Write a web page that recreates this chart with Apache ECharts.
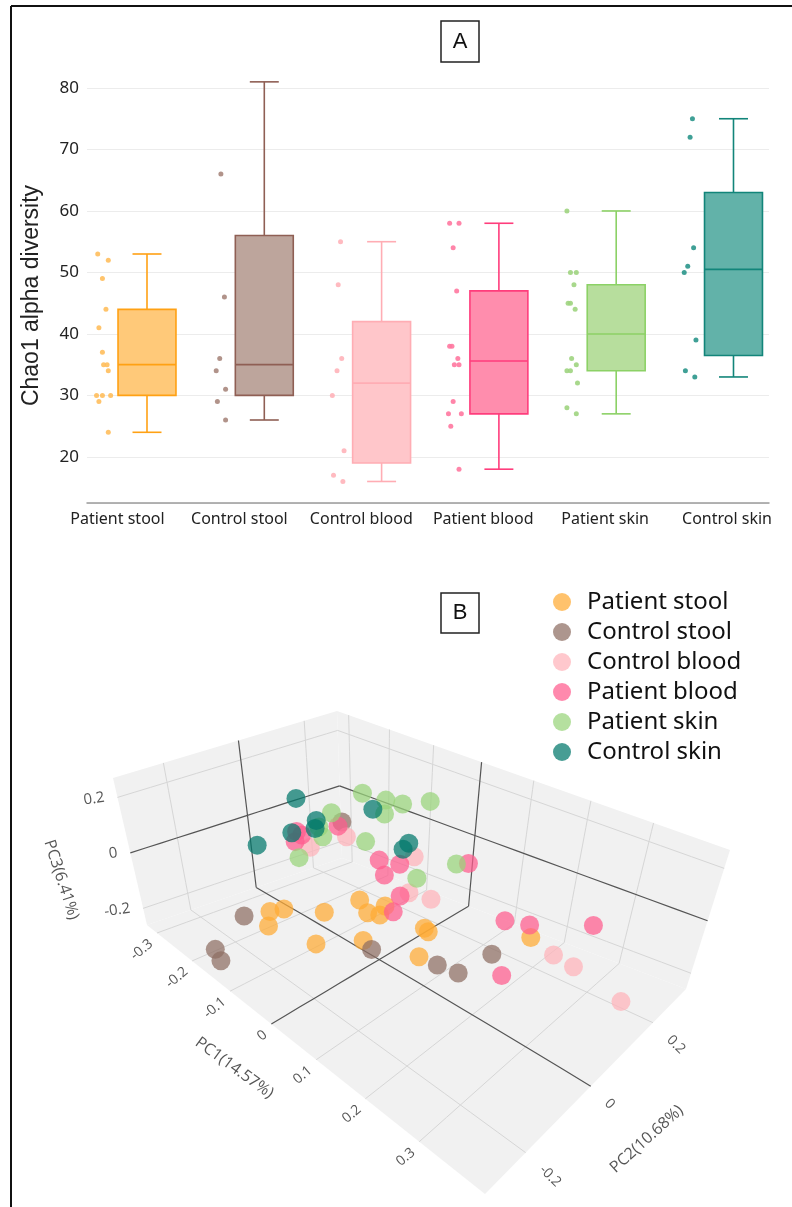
<!DOCTYPE html>
<html>
<head>
<meta charset="utf-8">
<title>Chao1 alpha diversity / PCoA</title>
<script src="https://cdn.jsdelivr.net/npm/echarts@6/dist/echarts.min.js"></script>
<style>
  html, body { margin: 0; padding: 0; background: #fff; }
  #chart { width: 792px; height: 1207px; }
</style>
</head>
<body>
<div id="chart"></div>
<script>
const groups = ['Patient stool', 'Control stool', 'Control blood', 'Patient blood', 'Patient skin', 'Control skin'];

// ---- panel A : five-number summaries [min, Q1, median, Q3, max]
const statsPatientStool = [24, 30, 35, 44, 53];
const statsControlStool = [26, 30, 35, 56, 81];
const statsControlBlood = [16, 19, 32, 42, 55];
const statsPatientBlood = [18, 27, 35.6, 47, 58];
const statsPatientSkin = [27, 34, 40, 48, 60];
const statsControlSkin = [33, 36.5, 50.5, 63, 75];

// individual samples drawn left of each box, with their jitter (fraction of a category)
const dotsPatientStool = [53, 52, 49, 44, 41, 37, 35, 35, 34, 30, 30, 30, 29, 24];
const jitPatientStool = [-0.42, -0.33, -0.38, -0.35, -0.41, -0.38, -0.37, -0.34, -0.33, -0.43, -0.38, -0.31, -0.41, -0.33];
const dotsControlStool = [81, 66, 46, 36, 34, 31, 29, 26];
const jitControlStool = [-0.36, -0.37, -0.34, -0.38, -0.41, -0.33, -0.40, -0.33];
const dotsControlBlood = [55, 48, 36, 34, 30, 21, 17, 16];
const jitControlBlood = [-0.35, -0.37, -0.34, -0.38, -0.42, -0.32, -0.41, -0.33];
const dotsPatientBlood = [58, 58, 54, 47, 38, 38, 36, 35, 35, 29, 27, 27, 25, 18];
const jitPatientBlood = [-0.42, -0.34, -0.39, -0.36, -0.42, -0.40, -0.35, -0.38, -0.34, -0.39, -0.43, -0.32, -0.41, -0.34];
const dotsPatientSkin = [60, 50, 50, 48, 45, 45, 44, 36, 35, 34, 34, 32, 28, 27];
const jitPatientSkin = [-0.42, -0.39, -0.34, -0.36, -0.41, -0.39, -0.35, -0.38, -0.34, -0.42, -0.39, -0.33, -0.42, -0.34];
const dotsControlSkin = [75, 72, 54, 51, 50, 39, 34, 33];
const jitControlSkin = [-0.35, -0.37, -0.34, -0.39, -0.42, -0.32, -0.41, -0.33];

// ---- panel B : PCoA, [PC1, PC2, PC3] per sample
const pcaPatientStool = [
  [-0.161, -0.131, -0.15], [-0.152, -0.100, -0.15], [-0.130, -0.170, -0.15], [-0.100, -0.040, -0.15], [-0.087, 0.055, -0.15],
  [-0.049, 0.030, -0.15], [-0.030, 0.043, -0.15], [-0.043, 0.078, -0.15], [-0.043, -0.135, -0.15], [0.002, -0.052, -0.15],
  [0.049, 0.074, -0.15], [0.060, 0.070, -0.15], [0.093, -0.008, -0.15], [0.191, 0.194, -0.15]
];
const pcaControlStool = [
  [-0.191, -0.175, -0.17], [-0.146, -0.301, -0.17], [-0.129, -0.306, -0.19], [0.018, -0.048, -0.17],
  [0.119, 0.011, -0.17], [0.155, 0.021, -0.17], [0.164, 0.114, -0.17], [-0.306, 0.283, -0.11]
];
const pcaControlBlood = [
  [-0.185, 0.027, -0.02], [-0.172, 0.126, -0.02], [-0.040, 0.167, -0.02], [0.028, 0.052, -0.02],
  [0.065, 0.066, -0.02], [0.282, 0.088, -0.02], [0.317, 0.085, -0.02], [0.398, 0.077, -0.04]
];
const pcaPatientBlood = [
  [-0.228, 0.037, 0], [-0.213, 0.035, 0], [-0.202, 0.002, 0], [-0.196, 0.130, 0], [-0.062, 0.085, 0],
  [-0.029, 0.104, 0], [-0.024, 0.049, 0], [0.034, 0.016, 0], [0.055, -0.034, 0], [0.051, 0.206, 0],
  [0.190, 0.096, 0], [0.223, 0.116, 0], [0.293, 0.188, 0], [0.260, -0.031, 0]
];
const pcaPatientSkin = [
  [-0.166, 0.173, 0.12], [-0.120, 0.186, 0.12], [-0.090, 0.198, 0.12], [-0.063, 0.249, 0.12], [-0.087, 0.136, 0.12],
  [-0.150, 0.055, 0.12], [-0.103, -0.029, 0.12], [-0.047, 0.024, 0.12], [-0.083, -0.120, 0.12], [0.076, 0.003, 0.12],
  [0.094, 0.093, 0.12], [-0.129, -0.008, 0.12]
];
const pcaControlSkin = [
  [-0.211, 0.024, 0.14], [-0.099, 0.116, 0.14], [-0.131, -0.082, 0.14], [-0.134, -0.009, 0.14],
  [-0.117, -0.033, 0.14], [-0.138, -0.168, 0.14], [0.014, 0.068, 0.14], [0.019, 0.044, 0.14]
];

const pc1Ticks = [-0.3, -0.2, -0.1, 0, 0.1, 0.2, 0.3];
const pc2Ticks = [-0.2, 0, 0.2];
const pc3Ticks = [-0.2, 0, 0.2];
const PC1_RANGE = [-0.33, 0.41];
const PC2_RANGE = [-0.32, 0.31];
const PC3_RANGE = [-0.26, 0.27];

// ---- styles
const boxFill = ['#ffc979', '#bda59c', '#ffc6ca', '#ff8dad', '#b7de9d', '#62b2a9'];
const boxLine = ['#ffa114', '#8f5f54', '#ffadb4', '#ff3d7c', '#8cd166', '#12857a'];
const dotColor = ['#ffbe5c', '#a9877d', '#ffb3b9', '#ff78a0', '#9fd47f', '#2a968b'];
const pcaColor = ['#ffaa33', '#8d6e63', '#ffb3ba', '#ff5c8d', '#98d47a', '#00776b'];

// scene box as it sits on the page: floor and top corners
// order: (pc1 min, pc2 min), (pc1 max, pc2 min), (pc1 max, pc2 max), (pc1 min, pc2 max)
const floorQuad = [[147, 925], [485, 1194], [686, 989], [342, 858]];
const topQuad = [[113, 778], [499, 1070], [730, 850], [337, 711]];
const depthPC1 = 1.383, depthPC2 = [0.811, 0.93];

function persp(u, k) { return u / (k * (1 - u) + u); }
// PC space -> page position (fed to a hidden pixel cartesian)
function project(p) {
  const s = persp((p[0] - PC1_RANGE[0]) / (PC1_RANGE[1] - PC1_RANGE[0]), depthPC1);
  const t = persp((p[1] - PC2_RANGE[0]) / (PC2_RANGE[1] - PC2_RANGE[0]), depthPC2[0] + (depthPC2[1] - depthPC2[0]) * s);
  const z = (p[2] - PC3_RANGE[0]) / (PC3_RANGE[1] - PC3_RANGE[0]);
  const w = [(1 - s) * (1 - t), s * (1 - t), s * t, (1 - s) * t];
  const out = [0, 0];
  for (let d = 0; d < 2; d++) {
    let lo = 0, hi = 0;
    for (let i = 0; i < 4; i++) { lo += w[i] * floorQuad[i][d]; hi += w[i] * topQuad[i][d]; }
    out[d] = lo + (hi - lo) * z;
  }
  return out;
}

const boxStats = [statsPatientStool, statsControlStool, statsControlBlood, statsPatientBlood, statsPatientSkin, statsControlSkin];
const dotSets = [dotsPatientStool, dotsControlStool, dotsControlBlood, dotsPatientBlood, dotsPatientSkin, dotsControlSkin];
const jitSets = [jitPatientStool, jitControlStool, jitControlBlood, jitPatientBlood, jitPatientSkin, jitControlSkin];
const pcaSets = [pcaPatientStool, pcaControlStool, pcaControlBlood, pcaPatientBlood, pcaPatientSkin, pcaControlSkin];

function renderBox(params, api) {
  const i = api.value(0);
  const half = api.size([1, 0])[0] * 0.247;
  const cap = half / 2;
  const cx = api.coord([i, 50])[0];
  const y = k => api.coord([i, api.value(k)])[1];
  const lo = y(1), q1 = y(2), md = y(3), q3 = y(4), hi = y(5);
  const seg = (x1, y1, x2, y2) => ({ type: 'line', shape: { x1, y1, x2, y2 }, style: { stroke: boxLine[i], lineWidth: 1.6 } });
  return {
    type: 'group',
    children: [
      seg(cx, hi, cx, q3), seg(cx, q1, cx, lo),
      seg(cx - cap, hi, cx + cap, hi), seg(cx - cap, lo, cx + cap, lo),
      { type: 'rect', shape: { x: cx - half, y: q3, width: half * 2, height: q1 - q3 }, style: { fill: boxFill[i], stroke: boxLine[i], lineWidth: 1.6 } },
      seg(cx - half, md, cx + half, md)
    ]
  };
}

// scene faces and grid lines
const X0 = PC1_RANGE[0], X1 = PC1_RANGE[1], Y0 = PC2_RANGE[0], Y1 = PC2_RANGE[1], Z0 = PC3_RANGE[0], Z1 = PC3_RANGE[1];
const faces = [
  [[X0, Y0, Z0], [X1, Y0, Z0], [X1, Y1, Z0], [X0, Y1, Z0]],
  [[X0, Y0, Z0], [X0, Y1, Z0], [X0, Y1, Z1], [X0, Y0, Z1]],
  [[X0, Y1, Z0], [X1, Y1, Z0], [X1, Y1, Z1], [X0, Y1, Z1]]
];
const gridPaths = [];
pc1Ticks.forEach(v => {
  gridPaths.push({ a: [v, Y0, Z0], b: [v, Y1, Z0], zero: v === 0 });
  gridPaths.push({ a: [v, Y1, Z0], b: [v, Y1, Z1], zero: v === 0 });
});
pc2Ticks.forEach(v => {
  gridPaths.push({ a: [X0, v, Z0], b: [X1, v, Z0], zero: v === 0 });
  gridPaths.push({ a: [X0, v, Z0], b: [X0, v, Z1], zero: v === 0 });
});
pc3Ticks.forEach(v => {
  gridPaths.push({ a: [X0, Y0, v], b: [X0, Y1, v], zero: v === 0 });
  gridPaths.push({ a: [X0, Y1, v], b: [X1, Y1, v], zero: v === 0 });
});
gridPaths.sort((p, q) => p.zero - q.zero);

function renderFace(params, api) {
  return {
    type: 'polygon',
    shape: { points: faces[params.dataIndex].map(p => api.coord(project(p))) },
    style: { fill: '#f1f1f1' }
  };
}
function renderGridLine(params, api) {
  const g = gridPaths[params.dataIndex];
  const pts = [];
  for (let k = 0; k <= 16; k++) {
    const f = k / 16;
    pts.push(api.coord(project([0, 1, 2].map(d => g.a[d] + (g.b[d] - g.a[d]) * f))));
  }
  return {
    type: 'polyline',
    shape: { points: pts },
    style: { stroke: g.zero ? '#555' : '#d6d6d6', lineWidth: g.zero ? 1.2 : 1, fill: null }
  };
}

const tickFmt = v => (v === 0 ? '0' : v.toFixed(1));
const shifted = (p, dx, dy) => { const q = project(p); return [q[0] + dx, q[1] + dy]; };
const sceneFont = { fontFamily: 'Open Sans', color: '#2a2a2a' };

const series = [
  {
    name: 'boxes', type: 'custom', xAxisIndex: 0, yAxisIndex: 0, renderItem: renderBox,
    encode: { x: 0, y: [1, 2, 3, 4, 5] },
    data: boxStats.map((b, i) => [i, ...b]), z: 2
  }
];
groups.forEach((g, i) => {
  series.push({
    name: g + ' samples', type: 'scatter', xAxisIndex: 0, yAxisIndex: 0, symbolSize: 5, z: 3,
    itemStyle: { color: dotColor[i], opacity: 0.9 },
    data: dotSets[i].map((v, k) => [i + jitSets[i][k], v])
  });
});
series.push({
  name: 'walls', type: 'custom', xAxisIndex: 2, yAxisIndex: 2, renderItem: renderFace, silent: true, z: 1,
  data: faces.map((f, i) => [i, i])
});
series.push({
  name: 'gridlines', type: 'custom', xAxisIndex: 2, yAxisIndex: 2, renderItem: renderGridLine, silent: true, z: 1,
  data: gridPaths.map((g, i) => [i, i])
});
groups.forEach((g, i) => {
  series.push({
    name: g, type: 'scatter', xAxisIndex: 2, yAxisIndex: 2, symbolSize: 19, z: 4,
    itemStyle: { color: pcaColor[i], opacity: 0.72 },
    data: pcaSets[i].map(p => project(p))
  });
});
const labelSeries = (data, label) => ({
  type: 'scatter', xAxisIndex: 2, yAxisIndex: 2, symbolSize: 0, silent: true, z: 5,
  data, label: Object.assign({ show: true, position: 'inside', formatter: '{b}', verticalAlign: 'middle' }, sceneFont, label)
});
series.push(labelSeries(pc1Ticks.map(v => ({ name: tickFmt(v), value: shifted([v, Y0, Z0], -6, 9) })), { align: 'right', rotate: 40, fontSize: 14 }));
series.push(labelSeries(pc2Ticks.map(v => ({ name: tickFmt(v), value: shifted([X1, v, Z0], 16, 15) })), { align: 'left', rotate: -45, fontSize: 14 }));
series.push(labelSeries(pc3Ticks.map(v => ({ name: tickFmt(v), value: shifted([X0, Y0, v], -13, 0) })), { align: 'right', rotate: 8, fontSize: 15 }));
series.push(labelSeries([
  { name: 'PC1(14.57%)', value: shifted([0, Y0, Z0], -37, 44), label: { rotate: -36 } },
  { name: 'PC2(10.68%)', value: shifted([X1, 0, Z0], 56, 53), label: { rotate: 42 } },
  { name: 'PC3(6.41%)', value: shifted([X0, Y0, 0], -69, 27), label: { rotate: -72 } }
], { align: 'center', fontSize: 16 }));

const option = {
  animation: false,
  backgroundColor: '#fff',
  grid: [
    { left: 87, top: 88, width: 682, height: 415, outerBoundsMode: 'none' },
    { left: 56.5, top: 502, width: 731.5, height: 1, outerBoundsMode: 'none' },
    { left: 0, top: 0, width: 792, height: 1207, outerBoundsMode: 'none' }
  ],
  xAxis: [
    {
      type: 'value', gridIndex: 0, min: -0.5115, max: 5.3027,
      axisLine: { onZero: false, lineStyle: { color: '#9b9b9b', width: 1.5 } },
      axisTick: { show: false }, axisLabel: { show: false }, splitLine: { show: false }
    },
    {
      type: 'category', gridIndex: 1, data: groups,
      axisLine: { show: false }, axisTick: { show: false },
      axisLabel: { fontSize: 16, color: '#222', margin: 8, fontFamily: 'Noto Sans', interval: 0 }
    },
    { type: 'value', gridIndex: 2, min: 0, max: 792, show: false }
  ],
  yAxis: [
    {
      type: 'value', gridIndex: 0, min: 12.5, max: 80,
      name: 'Chao1 alpha diversity', nameLocation: 'middle', nameGap: 44,
      nameTextStyle: { fontSize: 23, color: '#222', fontFamily: 'Liberation Sans' },
      axisLine: { show: false, onZero: false }, axisTick: { show: false },
      axisLabel: { fontSize: 17, color: '#222', margin: 8, fontFamily: 'Noto Sans', showMinLabel: false },
      splitLine: { lineStyle: { color: '#ececec', width: 1 } }
    },
    { type: 'value', gridIndex: 1, show: false },
    { type: 'value', gridIndex: 2, min: 0, max: 1207, inverse: true, show: false }
  ],
  legend: {
    data: groups, orient: 'vertical', left: 553, top: 589, padding: 0,
    itemWidth: 18, itemHeight: 18, itemGap: 4, icon: 'circle', selectedMode: false,
    textStyle: { fontSize: 24, color: '#111', fontFamily: 'Noto Sans', lineHeight: 26, padding: [0, 0, 0, 11] }
  },
  graphic: [
    { type: 'line', shape: { x1: 11, y1: 6, x2: 11, y2: 1207 }, style: { stroke: '#111', lineWidth: 2 } },
    { type: 'line', shape: { x1: 11, y1: 6, x2: 792, y2: 6 }, style: { stroke: '#111', lineWidth: 2 } },
    { type: 'rect', shape: { x: 441, y: 21, width: 38, height: 41 }, style: { fill: '#fff', stroke: '#222', lineWidth: 1.5 } },
    { type: 'text', x: 460, y: 42, style: { text: 'A', font: '22px "Liberation Sans"', fill: '#111', align: 'center', verticalAlign: 'middle' } },
    { type: 'rect', shape: { x: 441, y: 593, width: 38, height: 40 }, style: { fill: '#fff', stroke: '#222', lineWidth: 1.5 } },
    { type: 'text', x: 460, y: 613, style: { text: 'B', font: '22px "Liberation Sans"', fill: '#111', align: 'center', verticalAlign: 'middle' } }
  ],
  series
};

const chart = echarts.init(document.getElementById('chart'));
chart.setOption(option);
</script>
</body>
</html>
